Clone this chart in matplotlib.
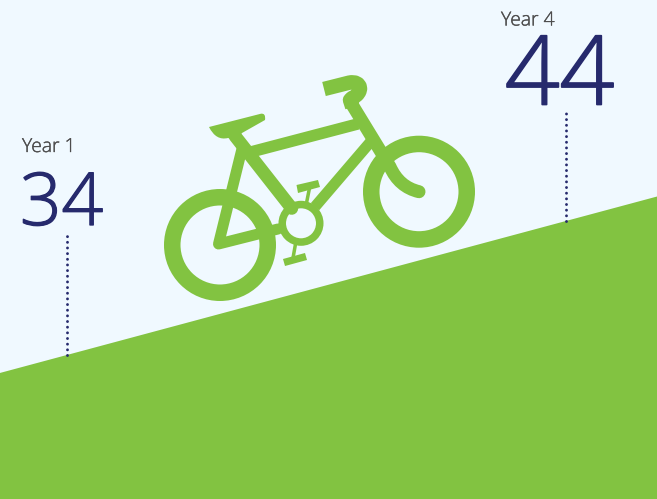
import numpy as np
import matplotlib
matplotlib.use('Agg')
import matplotlib.pyplot as plt
import matplotlib.patheffects as pe
from matplotlib.patches import Circle, PathPatch, Polygon
from matplotlib.path import Path

years = [1, 4]
year_labels = ['Year 1', 'Year 4']
values = [34, 44]

BG = '#F0F9FF'
GREEN = '#82C341'
NAVY = '#262A6D'
GREY = '#4D4D4D'
W, H = 657, 499

fig = plt.figure(figsize=(W / 100, H / 100), dpi=100, facecolor=BG)

# Eje de dados: a rampa sai dos dois valores, prolongada até as bordas
ax = fig.add_axes([0, 0, 1, 1], facecolor=BG)
ax.set_xlim(0.597, 4.547)
ax.set_ylim(23.25, 60.49)
ax.axis('off')

slope, inter = np.polyfit(years, values, 1)
xs = np.array(ax.get_xlim()) + np.array([-0.1, 0.1])
ax.fill_between(xs, ax.get_ylim()[0] - 1, slope * xs + inter, color=GREEN, lw=0, zorder=1)

# Linhas pontilhadas subindo da rampa
stems = [9.0, 8.1]
for yr, v, st in zip(years, values, stems):
    ax.plot([yr, yr], [v, v + st], color=NAVY, lw=2.1, dash_capstyle='round',
            linestyle=(0, (0.01, 1.93)), zorder=3)

# Camada em pixels para a bicicleta e os textos
px = fig.add_axes([0, 0, 1, 1], facecolor='none')
px.set_xlim(0, W)
px.set_ylim(H, 0)
px.axis('off')

FONT = ['Open Sans', 'DejaVu Sans']
label_pos = [(22, 147), (501, 20.5)]
value_pos = [(20, 206), (505, 79.5)]
value_size = [52.5, 69]
for lab, v, lp, vp, sz in zip(year_labels, values, label_pos, value_pos, value_size):
    px.text(lp[0], lp[1], lab, color=GREY, fontsize=13.9, family=FONT, weight='light',
            ha='left', va='center',
            path_effects=[pe.withStroke(linewidth=0.25, foreground=GREY)])
    px.text(vp[0], vp[1], str(v), color=NAVY, fontsize=sz, family=FONT, weight='light',
            ha='left', va='center',
            path_effects=[pe.withStroke(linewidth=sz * 0.018, foreground=NAVY)])


def ring(cx, cy, outer, inner):
    r = (outer + inner) / 2
    px.add_patch(Circle((cx, cy), r, fill=False, ec=GREEN, lw=(outer - inner) * 0.72, zorder=4))


def stroke(pts, width, cap='round', codes=None):
    path = Path(pts, codes)
    px.add_patch(PathPatch(path, fill=False, ec=GREEN, lw=width * 0.72, capstyle=cap,
                           joinstyle='round', zorder=4))


# Rodas e coroa
ring(220, 245, 56, 39.5)
ring(419, 191.7, 56, 39.5)
ring(301, 223.3, 22.5, 15)

# Quadro
stroke([(241.7, 150), (218.5, 244), (278, 229)], 11)
stroke([(235, 136), (291.7, 208.3)], 13)
stroke([(250, 152.2), (358, 123.9)], 11.5, cap='butt')
stroke([(371, 141.3), (315, 206.7)], 11, cap='butt')
stroke([(276, 229), (285, 227)], 9, cap='butt')

# Garfo e guidão
stroke([(352.3, 105), (390, 166.7), (399, 187), (419, 191.7)], 13,
       codes=[Path.MOVETO, Path.LINETO, Path.CURVE3, Path.CURVE3])
stroke([(324, 89), (349, 82.7), (362, 80), (364, 93), (352, 98), (350, 100), (352.3, 107)], 14.5, cap='butt',
       codes=[Path.MOVETO, Path.LINETO, Path.CURVE4, Path.CURVE4, Path.CURVE4, Path.LINETO, Path.LINETO])

# Selim
seat = Path([(209, 127), (261, 113.7), (266, 113), (265, 120), (242, 133),
             (236, 140), (228, 138), (216, 141), (209, 127), (209, 127)],
            [Path.MOVETO, Path.LINETO, Path.CURVE3, Path.CURVE3, Path.LINETO,
             Path.LINETO, Path.LINETO, Path.CURVE3, Path.CURVE3, Path.CLOSEPOLY])
px.add_patch(PathPatch(seat, fc=GREEN, ec='none', zorder=4))

# Pedais
stroke([(309.5, 188), (306.5, 203)], 3.5, cap='butt')
px.add_patch(Polygon([(296.5, 185), (318, 180), (320, 187), (298, 193)], fc=GREEN, ec='none', zorder=4))
stroke([(295.5, 244), (293, 258)], 3.5, cap='butt')
px.add_patch(Polygon([(283, 259), (305, 253), (307, 260), (285, 266)], fc=GREEN, ec='none', zorder=4))

fig.savefig('out.png', dpi=100, facecolor=BG)
